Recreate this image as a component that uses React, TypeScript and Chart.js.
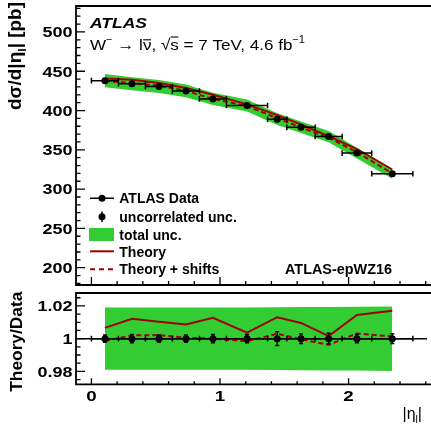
import React, { useEffect, useRef } from "react";
import { Chart, registerables } from "chart.js";

Chart.register(...registerables);

const FONT = "'Liberation Sans', Arial, Helvetica, sans-serif";
const GREEN = "#33cc33";
const RED = "#a00000";

// ---- data ----
const binEdges = [0, 0.21, 0.42, 0.63, 0.84, 1.05, 1.37, 1.52, 1.74, 1.95, 2.18, 2.5];
const etaCenters = [0.105, 0.315, 0.525, 0.735, 0.945, 1.21, 1.445, 1.63, 1.845, 2.065, 2.34];
const xsec = [438.0, 434.0, 430.6, 424.9, 414.8, 406.4, 389.0, 378.6, 366.9, 345.8, 319.5];
const uncorrRel = [0.0022, 0.0025, 0.0022, 0.0022, 0.0025, 0.0025, 0.0042, 0.003, 0.0033, 0.0025, 0.003];
const totalRel = [0.019, 0.019, 0.019, 0.019, 0.019, 0.019, 0.0192, 0.0193, 0.0194, 0.0195, 0.0197];
const theoryRatio = [1.0066, 1.0121, 1.0104, 1.0086, 1.0127, 1.0036, 1.0131, 1.0096, 1.0016, 1.0145, 1.0171];
const shiftRatio = [0.9986, 1.002, 1.0022, 1.0006, 1.0, 0.9984, 1.003, 0.9996, 0.9962, 1.0032, 1.0013];

const yTicksTop = [200, 250, 300, 350, 400, 450, 500];
const yTickLabelsTop = ["200", "250", "300", "350", "400", "450", "500"];
const yTicksRatio = [0.98, 1, 1.02];
const yTickLabelsRatio = ["0.98", "1", "1.02"];
const xTicks = [0, 1, 2];
const xTickLabels = ["0", "1", "2"];
const legendLabels = ["ATLAS Data", "uncorrelated unc.", "total unc.", "Theory", "Theory + shifts"];

type Run = { t: string; sup?: boolean; sub?: boolean; bar?: number };

function drawRuns(
  ctx: CanvasRenderingContext2D,
  runs: Run[],
  x: number,
  y: number,
  size: number,
  weight: string,
  targetW?: number,
  align: "left" | "right" | "center" = "left",
  stretch = 1
) {
  const fontFor = (s: number) => `${weight} ${s}px ${FONT}`;
  const widths = runs.map((r) => {
    ctx.font = fontFor(r.sup || r.sub ? size * 0.65 : size);
    return ctx.measureText(r.t).width;
  });
  const total = widths.reduce((a, b) => a + b, 0);
  const sx = targetW ? targetW / total : stretch;
  const fullW = total * sx;
  const x0 = align === "left" ? x : align === "right" ? x - fullW : x - fullW / 2;
  ctx.save();
  ctx.translate(x0, y);
  ctx.scale(sx, 1);
  ctx.textAlign = "left";
  ctx.textBaseline = "alphabetic";
  let cx = 0;
  runs.forEach((r, i) => {
    const small = r.sup || r.sub;
    ctx.font = fontFor(small ? size * 0.65 : size);
    const dy = r.sup ? -size * 0.4 : r.sub ? size * 0.25 : 0;
    ctx.fillText(r.t, cx, dy);
    if (r.bar) {
      ctx.fillRect(cx + 0.3, dy - r.bar * size, widths[i] - 0.6, Math.max(1, size * 0.07));
    }
    cx += widths[i];
  });
  ctx.restore();
}

function drawFrame(ctx: CanvasRenderingContext2D, chart: any, lw: number) {
  const { left, top, bottom, right } = chart.chartArea;
  ctx.save();
  ctx.strokeStyle = "#000";
  ctx.lineWidth = lw;
  ctx.beginPath();
  ctx.moveTo(right + 5, top);
  ctx.lineTo(left, top);
  ctx.lineTo(left, bottom);
  ctx.lineTo(right + 5, bottom);
  ctx.stroke();
  ctx.restore();
}

function drawTicks(
  ctx: CanvasRenderingContext2D,
  chart: any,
  axis: "x" | "y",
  majors: number[],
  minorStep: number,
  majLen: number,
  minLen: number
) {
  const sc = chart.scales[axis];
  const { left, bottom } = chart.chartArea;
  ctx.save();
  ctx.strokeStyle = "#000";
  ctx.lineWidth = 1.3;
  ctx.beginPath();
  const start = Math.ceil(sc.min / minorStep - 1e-6);
  for (let k = start; k * minorStep <= sc.max + 1e-9; k++) {
    const v = k * minorStep;
    const p = sc.getPixelForValue(v);
    const isMajor = majors.some((m) => Math.abs(m - v) < minorStep * 0.01);
    const len = isMajor ? majLen : minLen;
    if (axis === "y") {
      ctx.moveTo(left, p);
      ctx.lineTo(left + len, p);
    } else {
      ctx.moveTo(p, bottom);
      ctx.lineTo(p, bottom - len);
    }
  }
  ctx.stroke();
  ctx.restore();
}

function drawTickLabels(
  ctx: CanvasRenderingContext2D,
  chart: any,
  axis: "x" | "y",
  values: number[],
  labels: string[],
  pos: number
) {
  const sc = chart.scales[axis];
  ctx.save();
  ctx.fillStyle = "#000";
  values.forEach((v, i) => {
    const p = sc.getPixelForValue(v);
    if (axis === "y") {
      drawRuns(ctx, [{ t: labels[i] }], pos, p + 5.3, 15, "bold", undefined, "right", 1.2);
    } else {
      drawRuns(ctx, [{ t: labels[i] }], p, pos, 15, "bold", undefined, "center", 1.25);
    }
  });
  ctx.restore();
}

function drawErrorBars(ctx: CanvasRenderingContext2D, chart: any, values: number[], rel: number[]) {
  const xs = chart.scales.x;
  const ys = chart.scales.y;
  ctx.save();
  ctx.strokeStyle = "#000";
  ctx.lineWidth = 1.5;
  ctx.beginPath();
  values.forEach((v, i) => {
    const px = xs.getPixelForValue(etaCenters[i]);
    const py = ys.getPixelForValue(v);
    const l = xs.getPixelForValue(binEdges[i]);
    const r = xs.getPixelForValue(binEdges[i + 1]);
    ctx.moveTo(l, py);
    ctx.lineTo(r, py);
    ctx.moveTo(l, py - 2.8);
    ctx.lineTo(l, py + 2.8);
    ctx.moveTo(r, py - 2.8);
    ctx.lineTo(r, py + 2.8);
    const e = v * rel[i];
    const t = ys.getPixelForValue(v + e);
    const b = ys.getPixelForValue(v - e);
    ctx.moveTo(px, t);
    ctx.lineTo(px, b);
    ctx.moveTo(px - 2, t);
    ctx.lineTo(px + 2, t);
    ctx.moveTo(px - 2, b);
    ctx.lineTo(px + 2, b);
  });
  ctx.stroke();
  ctx.restore();
}

const baseOptions = (padding: any, xMin: number, xMax: number, yMin: number, yMax: number): any => ({
  animation: false,
  responsive: false,
  devicePixelRatio: 1,
  events: [],
  layout: { padding },
  elements: { line: { tension: 0 } },
  plugins: {
    legend: { display: false },
    tooltip: { enabled: false },
    filler: { propagate: false, drawTime: "beforeDatasetsDraw" },
  },
  scales: {
    x: { type: "linear", min: xMin, max: xMax, display: false },
    y: { type: "linear", min: yMin, max: yMax, display: false },
  },
});

const pts = (vals: number[]) => etaCenters.map((x, i) => ({ x, y: vals[i] }));

export default function App() {
  const topRef = useRef<HTMLCanvasElement>(null);
  const botRef = useRef<HTMLCanvasElement>(null);

  useEffect(() => {
    const bandLo = xsec.map((v, i) => v * (1 - totalRel[i]));
    const bandHi = xsec.map((v, i) => v * (1 + totalRel[i]));
    const theoryTop = xsec.map((v, i) => v * theoryRatio[i]);
    const shiftTop = xsec.map((v, i) => v * shiftRatio[i]);

    const topPlugin = {
      id: "topDeco",
      afterDatasetsDraw(chart: any) {
        drawErrorBars(chart.ctx, chart, xsec, uncorrRel);
      },
      afterDraw(chart: any) {
        const ctx: CanvasRenderingContext2D = chart.ctx;
        ctx.save();
        ctx.fillStyle = "#000";
        drawFrame(ctx, chart, 1.8);
        drawTicks(ctx, chart, "y", yTicksTop, 10, 9, 4.5);
        drawTicks(ctx, chart, "x", xTicks, 0.2, 8, 4);
        drawTickLabels(ctx, chart, "y", yTicksTop, yTickLabelsTop, 72.5);

        // y title (rotated)
        ctx.save();
        ctx.translate(21, 110);
        ctx.rotate(-Math.PI / 2);
        drawRuns(ctx, [{ t: "d\u03C3/d|\u03B7" }, { t: "l", sub: true }, { t: "| [pb]" }], 0, 0, 18, "bold", 108);
        ctx.restore();

        // ATLAS label + process
        drawRuns(ctx, [{ t: "ATLAS" }], 90, 28.3, 15, "italic bold", 57);
        drawRuns(
          ctx,
          [
            { t: "W" },
            { t: "\u2212", sup: true },
            { t: " \u2192 l" },
            { t: "\u03BD", bar: 0.66 },
            { t: ", " },
            { t: "\u221A" },
            { t: "s", bar: 0.84 },
            { t: " = 7 TeV, 4.6 fb" },
            { t: "\u22121", sup: true },
          ],
          90,
          49.5,
          15.5,
          "normal",
          215
        );

        // legend
        const rowsY = [198.3, 216.7, 235, 251.3, 269.3];
        const baseY = [202.7, 221.6, 240.3, 256.6, 274.3];
        ctx.strokeStyle = "#000";
        ctx.lineWidth = 1.5;
        ctx.beginPath();
        ctx.moveTo(90, rowsY[0]);
        ctx.lineTo(114, rowsY[0]);
        ctx.moveTo(102, rowsY[1] - 5.3);
        ctx.lineTo(102, rowsY[1] + 5.3);
        ctx.stroke();
        ctx.beginPath();
        ctx.arc(102, rowsY[0], 3.5, 0, Math.PI * 2);
        ctx.arc(102, rowsY[1], 3.5, 0, Math.PI * 2);
        ctx.fill();
        ctx.fillStyle = GREEN;
        ctx.fillRect(89, 228, 25, 13);
        ctx.strokeStyle = RED;
        ctx.lineWidth = 2;
        ctx.beginPath();
        ctx.moveTo(90, rowsY[3]);
        ctx.lineTo(114, rowsY[3]);
        ctx.stroke();
        ctx.setLineDash([5, 4]);
        ctx.beginPath();
        ctx.moveTo(90, rowsY[4]);
        ctx.lineTo(115, rowsY[4]);
        ctx.stroke();
        ctx.setLineDash([]);
        ctx.fillStyle = "#000";
        legendLabels.forEach((lab, i) => {
          drawRuns(ctx, [{ t: lab }], 119.3, baseY[i], 14, "bold");
        });
        drawRuns(ctx, [{ t: "ATLAS-epWZ16" }], 285, 274.3, 14, "bold", 107);
        ctx.restore();
      },
    };

    const top = new Chart(topRef.current!, {
      type: "line",
      data: {
        datasets: [
          { label: "band-lo", data: pts(bandLo), borderWidth: 0, pointRadius: 0, fill: false, order: 10 } as any,
          {
            label: "total unc.",
            data: pts(bandHi),
            borderWidth: 0,
            pointRadius: 0,
            fill: "-1",
            backgroundColor: GREEN,
            order: 9,
          },
          { label: "Theory", data: pts(theoryTop), borderColor: RED, borderWidth: 2, pointRadius: 0, fill: false, order: 3 },
          {
            label: "Theory + shifts",
            data: pts(shiftTop),
            borderColor: RED,
            borderWidth: 2,
            borderDash: [5, 3],
            pointRadius: 0,
            fill: false,
            order: 2,
          },
          {
            label: "ATLAS Data",
            data: pts(xsec),
            showLine: false,
            pointRadius: 3.5,
            pointBackgroundColor: "#000",
            pointBorderColor: "#000",
            pointBorderWidth: 0,
            fill: false,
            order: 1,
          },
        ],
      },
      options: baseOptions({ left: 76, right: 0, top: 6, bottom: 1.2 }, -0.12, 2.61, 178, 533),
      plugins: [topPlugin],
    });

    const ones = etaCenters.map(() => 1);
    const ratioLo = totalRel.map((e) => 1 - e);
    const ratioHi = totalRel.map((e) => 1 + e);

    const botPlugin = {
      id: "botDeco",
      beforeDatasetsDraw(chart: any) {
        const ctx: CanvasRenderingContext2D = chart.ctx;
        const { left, right } = chart.chartArea;
        const p = chart.scales.y.getPixelForValue(1);
        ctx.save();
        ctx.strokeStyle = "#000";
        ctx.lineWidth = 1.5;
        ctx.beginPath();
        ctx.moveTo(left, p);
        ctx.lineTo(right, p);
        ctx.stroke();
        ctx.restore();
      },
      afterDatasetsDraw(chart: any) {
        drawErrorBars(chart.ctx, chart, ones, uncorrRel);
      },
      afterDraw(chart: any) {
        const ctx: CanvasRenderingContext2D = chart.ctx;
        ctx.save();
        ctx.fillStyle = "#000";
        drawFrame(ctx, chart, 1.8);
        drawTicks(ctx, chart, "y", yTicksRatio, 0.005, 9, 4.5);
        drawTicks(ctx, chart, "x", xTicks, 0.2, 6, 3);
        drawTickLabels(ctx, chart, "y", yTicksRatio, yTickLabelsRatio, 72.5);
        drawTickLabels(ctx, chart, "x", xTicks, xTickLabels, 112.4);

        ctx.save();
        ctx.translate(21.5, 102.7);
        ctx.rotate(-Math.PI / 2);
        drawRuns(ctx, [{ t: "Theory/Data" }], 0, 0, 16, "bold", 100);
        ctx.restore();

        drawRuns(ctx, [{ t: "|\u03B7" }, { t: "l", sub: true }, { t: "|" }], 422, 130, 16, "normal", undefined, "right");
        ctx.restore();
      },
    };

    const bot = new Chart(botRef.current!, {
      type: "line",
      data: {
        datasets: [
          { label: "band-lo", data: pts(ratioLo), borderWidth: 0, pointRadius: 0, fill: false, order: 10 } as any,
          { label: "total unc.", data: pts(ratioHi), borderWidth: 0, pointRadius: 0, fill: "-1", backgroundColor: GREEN, order: 9 },
          { label: "Theory", data: pts(theoryRatio), borderColor: RED, borderWidth: 2, pointRadius: 0, fill: false, order: 3 },
          {
            label: "Theory + shifts",
            data: pts(shiftRatio),
            borderColor: RED,
            borderWidth: 2,
            borderDash: [5, 3],
            pointRadius: 0,
            fill: false,
            order: 2,
          },
          {
            label: "ATLAS Data",
            data: pts(ones),
            showLine: false,
            pointRadius: 3.5,
            pointBackgroundColor: "#000",
            pointBorderColor: "#000",
            pointBorderWidth: 0,
            fill: false,
            order: 1,
          },
        ],
      },
      options: baseOptions({ left: 76, right: 0, top: 1.8, bottom: 40.7 }, -0.12, 2.61, 0.9721, 1.0279),
      plugins: [botPlugin],
    });

    return () => {
      top.destroy();
      bot.destroy();
    };
  }, []);

  return (
    <div
      style={{
        position: "fixed",
        left: 0,
        top: 0,
        width: 431,
        height: 425,
        background: "#fff",
        overflow: "hidden",
      }}
    >
      <canvas ref={topRef} width={431} height={289} style={{ position: "absolute", left: 0, top: 0 }} />
      <canvas ref={botRef} width={431} height={136} style={{ position: "absolute", left: 0, top: 289 }} />
    </div>
  );
}
